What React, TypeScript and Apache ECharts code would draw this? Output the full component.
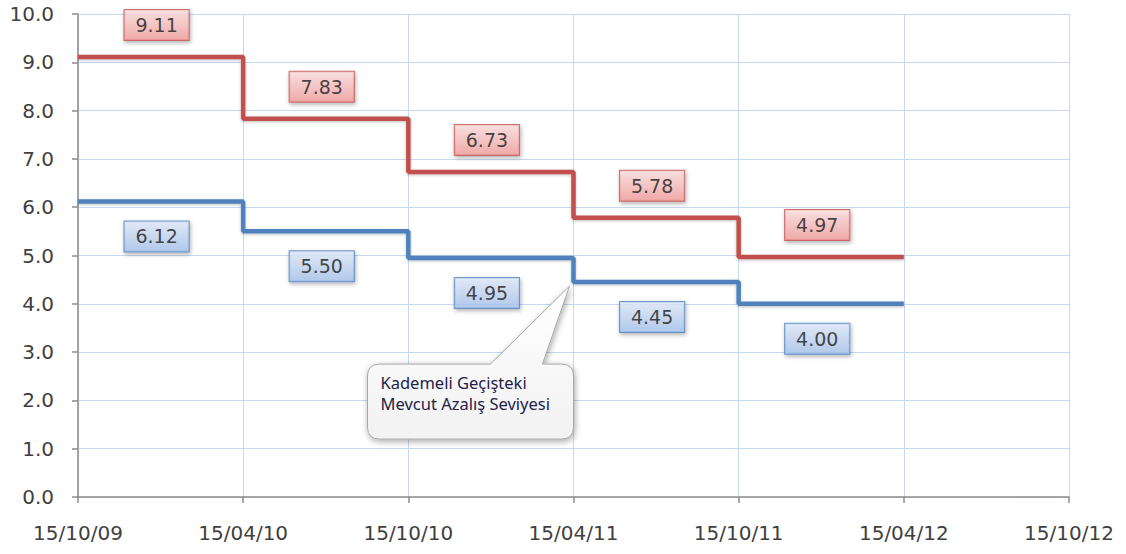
import React, { useEffect, useRef } from "react";
import * as echarts from "echarts";

const xLabels = ["15/10/09", "15/04/10", "15/10/10", "15/04/11", "15/10/11", "15/04/12", "15/10/12"];
const periodStarts = [0, 1, 2, 3, 4];
const periodEnd = 5;
const upperValues = [9.11, 7.83, 6.73, 5.78, 4.97];
const lowerValues = [6.12, 5.5, 4.95, 4.45, 4.0];
const yMin = 0;
const yMax = 10;
const calloutLines = ["Kademeli Geçişteki", "Mevcut Azalış Seviyesi"];
const calloutAnchor = [3, 4.45];

const stepData = (vals: number[]) =>
  periodStarts.map((s, i) => [s, vals[i]]).concat([[periodEnd, vals[vals.length - 1]]]);
const labelData = (vals: number[]) => periodStarts.map((s, i) => [s + 0.5, vals[i]]);

const bubblePath =
  "M12,0 L123,0 L202,-78 L175,0 L194,0 Q206,0 206,12 L206,63 Q206,75 194,75 L12,75 Q0,75 0,63 L0,12 Q0,0 12,0 Z";

export default function App() {
  const ref = useRef<HTMLDivElement>(null);
  useEffect(() => {
    document.body.style.margin = "0";
    if (!ref.current) return;
    try {
      echarts.graphic.registerShape("bubble", echarts.graphic.extendPath(bubblePath, {}));
    } catch (e) {}
    const chart = echarts.init(ref.current, null, { renderer: "svg" });
    const axisFont = { fontFamily: "DejaVu Sans", fontSize: 20, color: "#404040" };
    const mkLabel = (dy: number, top: string, bottom: string, border: string) => ({
      show: true,
      position: "inside",
      offset: [-4, dy],
      formatter: (p: any) => p.value[1].toFixed(2),
      fontFamily: "DejaVu Sans",
      fontSize: 19,
      color: "#1a1a1a",
      backgroundColor: new echarts.graphic.LinearGradient(0, 0, 0, 1, [
        { offset: 0, color: top },
        { offset: 1, color: bottom },
      ]),
      borderColor: border,
      borderWidth: 1,
      padding: [6, 11, 5, 11],
      shadowBlur: 4,
      shadowColor: "rgba(0,0,0,0.35)",
      shadowOffsetX: 1,
      shadowOffsetY: 2,
    });
    chart.setOption({
      animation: false,
      grid: { left: 78, right: 57, top: 14, bottom: 57 },
      xAxis: {
        type: "value",
        min: 0,
        max: xLabels.length - 1,
        interval: 1,
        axisLine: { show: true, lineStyle: { color: "#8c8c8c", width: 1.5 } },
        axisTick: { show: true, length: 6, lineStyle: { color: "#8c8c8c", width: 1.5 } },
        axisLabel: { ...axisFont, margin: 26, formatter: (v: number) => xLabels[v] ?? "" },
        splitLine: { show: true, lineStyle: { color: "#c6d9f1", width: 1 } },
      },
      yAxis: {
        type: "value",
        min: yMin,
        max: yMax,
        interval: 1,
        axisLine: { show: true, lineStyle: { color: "#8c8c8c", width: 1.5 } },
        axisTick: { show: true, length: 6, lineStyle: { color: "#8c8c8c", width: 1.5 } },
        axisLabel: { ...axisFont, margin: 24, formatter: (v: number) => v.toFixed(1) },
        splitLine: { show: true, lineStyle: { color: "#c6d9f1", width: 1 } },
      },
      series: [
        {
          type: "line",
          step: "end",
          data: stepData(upperValues),
          symbol: "none",
          lineStyle: { color: "#c0504d", width: 4.5, shadowBlur: 3, shadowColor: "rgba(0,0,0,0.25)", shadowOffsetY: 1 },
          z: 2,
        },
        {
          type: "line",
          step: "end",
          data: stepData(lowerValues),
          symbol: "none",
          lineStyle: { color: "#4f81bd", width: 4.5, shadowBlur: 3, shadowColor: "rgba(0,0,0,0.25)", shadowOffsetY: 1 },
          z: 2,
        },
        {
          type: "scatter",
          data: labelData(upperValues),
          symbolSize: 0,
          label: mkLabel(-32, "#fde0df", "#f4a09f", "#c0504d"),
          z: 5,
        },
        {
          type: "scatter",
          data: labelData(lowerValues),
          symbolSize: 0,
          label: mkLabel(35, "#e1ebfa", "#a9c5ef", "#4f81bd"),
          z: 5,
        },
      ],
    });
    const tip = chart.convertToPixel({ gridIndex: 0 }, calloutAnchor) as number[];
    const bx = tip[0] - 206;
    const by = tip[1] + 82;
    chart.setOption({
      graphic: [
        {
          type: "bubble",
          x: bx,
          y: by,
          z: 100,
          style: {
            fill: new echarts.graphic.LinearGradient(0, 0, 0, 1, [
              { offset: 0, color: "#ffffff" },
              { offset: 1, color: "#f2f2f2" },
            ]),
            stroke: "#a6a6a6",
            lineWidth: 1,
            shadowBlur: 6,
            shadowColor: "rgba(0,0,0,0.35)",
            shadowOffsetX: 1,
            shadowOffsetY: 2,
          },
        },
        ...calloutLines.map((t, i) => ({
          type: "text",
          x: bx + 13,
          y: by + 18 + i * 21,
          z: 101,
          style: {
            text: t,
            fill: "#22224a",
            fontFamily: "Noto Sans",
            fontSize: 16.5,
            textVerticalAlign: "middle",
            verticalAlign: "middle",
          },
        })),
      ],
    });
    return () => chart.dispose();
  }, []);
  return <div ref={ref} style={{ width: 1126, height: 554 }} />;
}
